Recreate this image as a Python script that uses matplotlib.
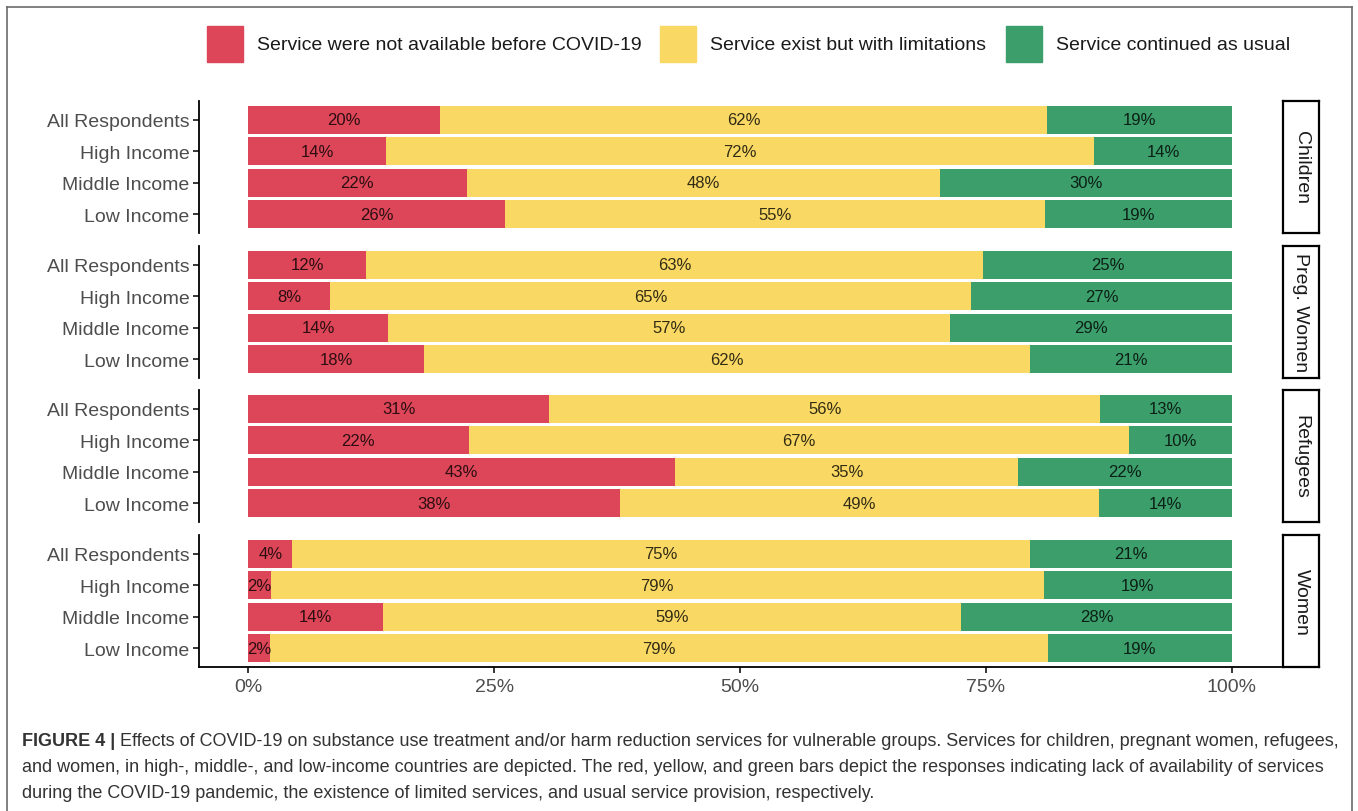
import numpy as np
import matplotlib
matplotlib.use("Agg")
import matplotlib.pyplot as plt
from matplotlib.lines import Line2D
from matplotlib.patches import Rectangle

plt.rcParams['font.family'] = ['Liberation Sans', 'DejaVu Sans']

# data (shares, labels as printed)
groups = ["Children", "Preg. Women", "Refugees", "Women"]
rows = ["All Respondents", "High Income", "Middle Income", "Low Income"]
legend_names = ["Service were not available before COVID-19",
                "Service exist but with limitations",
                "Service continued as usual"]

not_avail = [[19.5, 14.0, 22.2, 26.1],
             [12.0, 8.3, 14.2, 17.9],
             [30.6, 22.4, 43.4, 37.8],
             [4.5, 2.3, 13.7, 2.2]]
limited = [[61.7, 72.0, 48.1, 54.9],
           [62.7, 65.2, 57.1, 61.6],
           [56.0, 67.1, 34.9, 48.7],
           [75.0, 78.6, 58.8, 79.1]]
usual = [[18.8, 14.0, 29.7, 19.0],
         [25.3, 26.5, 28.7, 20.5],
         [13.4, 10.5, 21.7, 13.5],
         [20.5, 19.1, 27.5, 18.7]]

lab_not = [["20%", "14%", "22%", "26%"],
           ["12%", "8%", "14%", "18%"],
           ["31%", "22%", "43%", "38%"],
           ["4%", "2%", "14%", "2%"]]
lab_lim = [["62%", "72%", "48%", "55%"],
           ["63%", "65%", "57%", "62%"],
           ["56%", "67%", "35%", "49%"],
           ["75%", "79%", "59%", "79%"]]
lab_usu = [["19%", "14%", "30%", "19%"],
           ["25%", "27%", "29%", "21%"],
           ["13%", "10%", "22%", "14%"],
           ["21%", "19%", "28%", "19%"]]

colors = ["#DC4658", "#F9D964", "#3B9E6B"]

W, H = 1358, 812
fig = plt.figure(figsize=(W / 100, H / 100), dpi=100)


def fx(px):
    return px / W


def fy(py):
    return 1 - py / H


# outer frame
frame_c = "#6b6b6b"
fig.add_artist(Line2D([fx(7), fx(7)], [fy(8), fy(812)], color=frame_c, lw=1.2))
fig.add_artist(Line2D([fx(1352), fx(1352)], [fy(8), fy(812)], color=frame_c, lw=1.2))
fig.add_artist(Line2D([fx(7), fx(1352)], [fy(8), fy(8)], color=frame_c, lw=1.2))

panel_tops = [102, 247, 391, 536]
panel_h = 132
x0, x1 = 199, 1281
strip_x0, strip_x1 = 1283, 1319

for g in range(4):
    top = panel_tops[g]
    ax = fig.add_axes([fx(x0), fy(top + panel_h), fx(x1) - fx(x0), panel_h / H])
    y = np.arange(len(rows))
    a = np.array(not_avail[g]) / 100
    b = np.array(limited[g]) / 100
    c = np.array(usual[g]) / 100
    ax.barh(y, a, height=0.9, color=colors[0])
    ax.barh(y, b, left=a, height=0.9, color=colors[1])
    ax.barh(y, c, left=a + b, height=0.9, color=colors[2])
    for i in range(len(rows)):
        ax.text(a[i] / 2, y[i], lab_not[g][i], ha="center", va="center",
                fontsize=12, color="black", alpha=0.8)
        ax.text(a[i] + b[i] / 2, y[i], lab_lim[g][i], ha="center", va="center",
                fontsize=12, color="black", alpha=0.8)
        ax.text(a[i] + b[i] + c[i] / 2, y[i], lab_usu[g][i], ha="center", va="center",
                fontsize=12, color="black", alpha=0.8)
    ax.set_xlim(-0.05, 1.05)
    ax.set_ylim(3.6, -0.6)
    ax.set_yticks(y)
    ax.set_yticklabels(rows, fontsize=14, color="#4D4D4D")
    ax.tick_params(axis="y", length=4, width=1.1, color="black", pad=3)
    for s in ["top", "right"]:
        ax.spines[s].set_visible(False)
    ax.spines["left"].set_linewidth(1.3)
    if g < 3:
        ax.spines["bottom"].set_visible(False)
        ax.set_xticks([])
    else:
        ax.spines["bottom"].set_linewidth(1.3)
        ax.set_xticks([0, 0.25, 0.5, 0.75, 1.0])
        ax.set_xticklabels(["0%", "25%", "50%", "75%", "100%"], fontsize=14, color="#4D4D4D")
        ax.tick_params(axis="x", length=4, width=1.1, color="black", pad=4)

    # facet strip
    sax = fig.add_axes([fx(strip_x0), fy(top + panel_h), fx(strip_x1) - fx(strip_x0), panel_h / H])
    sax.set_xticks([])
    sax.set_yticks([])
    for s in sax.spines.values():
        s.set_linewidth(1.6)
        s.set_color("black")
    sax.text(0.5, 0.5, groups[g], rotation=270, ha="center", va="center",
             fontsize=14, color="#1A1A1A", transform=sax.transAxes)

# legend across the top
key_x = [207, 660, 1006]
for k in range(3):
    fig.add_artist(Rectangle((fx(key_x[k]), fy(63)), 36 / W, 36 / H,
                             color=colors[k], transform=fig.transFigure))
    fig.text(fx(key_x[k] + 50), fy(45), legend_names[k], fontsize=14,
             color="#1A1A1A", ha="left", va="center")

# caption
cap_lines = [
    "Effects of COVID-19 on substance use treatment and/or harm reduction services for vulnerable groups. Services for children, pregnant women, refugees,",
    "and women, in high-, middle-, and low-income countries are depicted. The red, yellow, and green bars depict the responses indicating lack of availability of services",
    "during the COVID-19 pandemic, the existence of limited services, and usual service provision, respectively.",
]
cap_fs = 13
t = fig.text(fx(22), fy(742), "FIGURE 4 | ", fontsize=cap_fs, fontweight="bold",
             color="#333333", ha="left", va="center")
fig.canvas.draw()
bb = t.get_window_extent()
fig.text(bb.x1 / W, fy(742), cap_lines[0], fontsize=cap_fs, color="#333333",
         ha="left", va="center")
fig.text(fx(22), fy(768), cap_lines[1], fontsize=cap_fs, color="#333333", ha="left", va="center")
fig.text(fx(22), fy(794), cap_lines[2], fontsize=cap_fs, color="#333333", ha="left", va="center")

fig.savefig("out.png", dpi=100)
